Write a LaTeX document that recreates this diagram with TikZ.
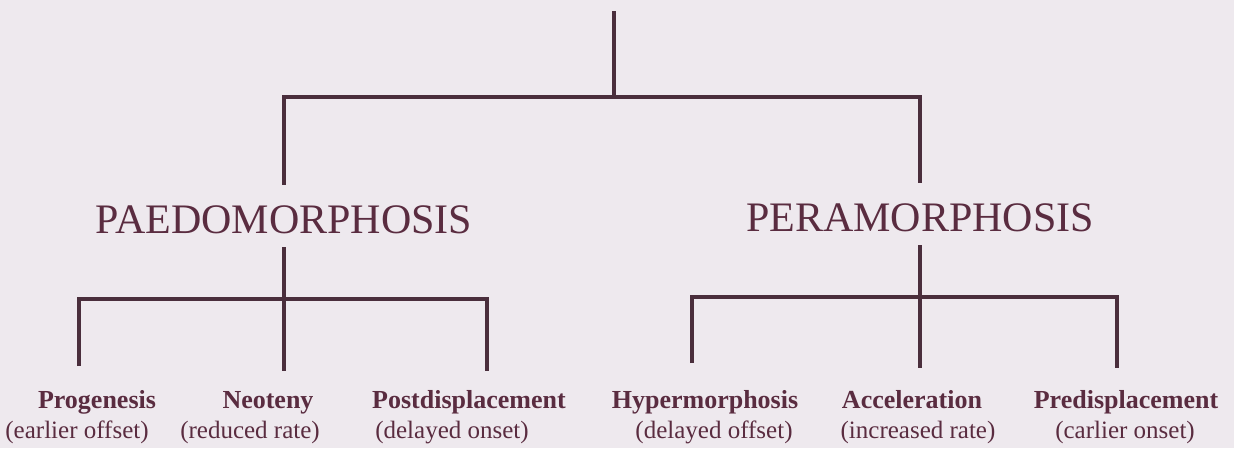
\documentclass[tikz,border=0pt]{standalone}
\usepackage{fontspec}
\setmainfont{Liberation Serif}
\definecolor{bgcol}{RGB}{238,233,238}
\definecolor{linecol}{RGB}{74,46,60}
\definecolor{textcol}{RGB}{90,44,64}
\tikzset{
  branch/.style={draw=linecol, line width=4pt},
  group/.style={text=textcol, font=\fontsize{42}{50}\selectfont, inner sep=0pt, text height=48pt, text depth=14pt, anchor=base},
  leaf/.style={text=textcol, font=\bfseries\fontsize{26}{30}\selectfont, anchor=base},
  note/.style={text=textcol, font=\fontsize{25}{30}\selectfont, anchor=base},
}
\begin{document}
\begin{tikzpicture}[x=1pt, y=-1pt]
  % background
  \fill[bgcol] (0,0) rectangle (1234,448);
  \useasboundingbox (0,0) rectangle (1234,448);

  % two main groups
  \node[group] (paedo) at (284,233) {PAEDOMORPHOSIS};
  \node[group] (pera) at (920,231) {PERAMORPHOSIS};

  % top split
  \coordinate (root) at (614,11);
  \coordinate (split) at (614,97);
  \draw[branch] (root) -- (split);
  \draw[branch] (paedo) |- (split) -| (pera);

  % paedomorphosis processes
  \node[leaf] (prog) at (97,408) {Progenesis};
  \node[note] (prog-note) at (77,438) {(earlier offset)};
  \node[leaf] (neot) at (268,408) {Neoteny};
  \node[note] (neot-note) at (250,438) {(reduced rate)};
  \node[leaf] (postd) at (469,408) {Postdisplacement};
  \node[note] (postd-note) at (452,438) {(delayed onset)};

  \coordinate (pjoin) at (284,299);
  \coordinate (prog-in) at (79,366);
  \coordinate (neot-in) at (284,371);
  \coordinate (postd-in) at (487,371);
  \draw[branch] (paedo) -- (pjoin) -- (neot-in);
  \draw[branch] (prog-in) |- (pjoin) -| (postd-in);

  % peramorphosis processes
  \node[leaf] (hyper) at (705,408) {Hypermorphosis};
  \node[note] (hyper-note) at (714,438) {(delayed offset)};
  \node[leaf] (accel) at (912,408) {Acceleration};
  \node[note] (accel-note) at (918,438) {(increased rate)};
  \node[leaf] (pred) at (1126,408) {Predisplacement};
  \node[note] (pred-note) at (1125,438) {(carlier onset)};

  \coordinate (rjoin) at (920,297);
  \coordinate (hyper-in) at (692,363);
  \coordinate (accel-in) at (920,368);
  \coordinate (pred-in) at (1117,368);
  \draw[branch] (pera) -- (rjoin) -- (accel-in);
  \draw[branch] (hyper-in) |- (rjoin) -| (pred-in);
\end{tikzpicture}
\end{document}
